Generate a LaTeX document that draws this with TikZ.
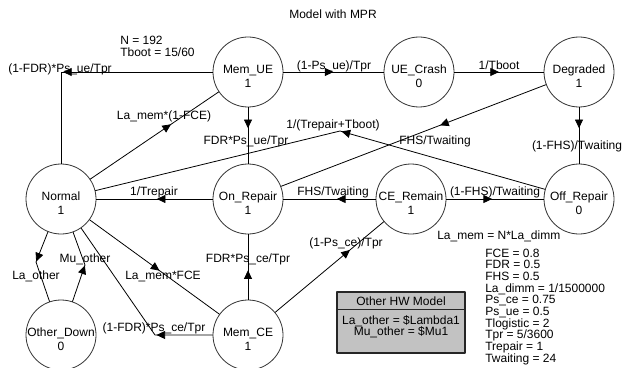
\documentclass[tikz,border=0pt]{standalone}
\usepackage{fontspec}
\setmainfont{Liberation Sans}
\usetikzlibrary{positioning,arrows.meta,decorations.markings}

\tikzset{
  mstate/.style={circle, draw=black!80, line width=0.6pt, minimum size=52.5pt, inner sep=0pt},
  stlabel/.style={align=center, inner sep=0pt, yshift=-3pt, font=\fontsize{9}{10.5}\selectfont},
  trans/.style={draw=black, line width=0.6pt},
  arr/.style={postaction={decorate}, decoration={markings,
      mark=at position #1 with {\arrow{Triangle[length=6.5pt,width=6pt]}}}},
  lbl/.style={inner sep=0pt, anchor=base, font=\fontsize{9}{10.5}\selectfont},
}

\begin{document}
\begin{tikzpicture}[x=0.75pt, y=-0.75pt, line cap=round, line join=round]
\clip (0,0) rectangle (623,367);
\fill[white] (0,0) rectangle (623,367);

% title and model constants
\node[lbl] (title) at (333,18.5) {Model with MPR};
\node[lbl, anchor=base west] (cN) at (120,45) {N = 192};
\node[lbl, anchor=base west] (cTboot) at (120,57) {Tboot = 15/60};

% states
\node[mstate, label={[stlabel]center:Mem\_UE\\1}] (MemUE) at (248,72) {};
\node[mstate, label={[stlabel]center:UE\_Crash\\0}] (UECrash) at (419,72) {};
\node[mstate, label={[stlabel]center:Degraded\\1}] (Degraded) at (579,72) {};
\node[mstate, label={[stlabel]center:Normal\\1}] (Normal) at (61,199) {};
\node[mstate, label={[stlabel]center:On\_Repair\\1}] (OnRepair) at (248,199) {};
\node[mstate, label={[stlabel]center:CE\_Remain\\1}] (CERemain) at (411,199) {};
\node[mstate, label={[stlabel]center:Off\_Repair\\0}] (OffRepair) at (579,199) {};
\node[mstate, label={[stlabel]center:Other\_Down\\0}] (OtherDown) at (61,335) {};
\node[mstate, label={[stlabel]center:Mem\_CE\\1}] (MemCE) at (248,335) {};

% bend points
\coordinate (bendA) at (340,131);
\coordinate (bendB) at (155,335);
\coordinate (bendC) at (36,262);
\coordinate (bendD) at (85,265);

% transitions, top row
\draw[trans, arr=0.615] (MemUE) -| (Normal) node[lbl] at (60,73) {(1-FDR)*Ps\_ue/Tpr};
\draw[trans, arr=0.5] (MemUE) -- (UECrash) node[lbl] at (334,70) {(1-Ps\_ue)/Tpr};
\draw[trans, arr=0.5] (UECrash) -- (Degraded) node[lbl] at (499,70) {1/Tboot};
\draw[trans, arr=0.37] (Degraded) -- (OffRepair) node[lbl] at (577,149) {(1-FHS)/Twaiting};
\draw[trans, arr=0.37] (MemUE) -- (OnRepair) node[lbl] at (246,144) {FDR*Ps\_ue/Tpr};
\draw[trans, arr=0.63] (Normal) -- (MemUE) node[lbl] at (164,119) {La\_mem*(1-FCE)};
\draw[trans, arr=0.40] (Degraded) -- (OnRepair) node[lbl] at (435,144) {FHS/Twaiting};
\draw[trans, arr=0.455] (OffRepair) -- (bendA) -- (Normal) node[lbl] at (333,128) {1/(Trepair+Tboot)};

% transitions, middle row
\draw[trans, arr=0.48] (OnRepair) -- (Normal) node[lbl] at (154,195) {1/Trepair};
\draw[trans, arr=0.42] (CERemain) -- (OnRepair) node[lbl] at (333,195) {FHS/Twaiting};
\draw[trans, arr=0.47] (CERemain) -- (OffRepair) node[lbl] at (495,195) {(1-FHS)/Twaiting};

% transitions, bottom row
\draw[trans, arr=0.69] (MemCE) -- (CERemain) node[lbl] at (346,246) {(1-Ps\_ce)/Tpr};
\draw[trans, arr=0.45] (MemCE) -- (OnRepair) node[lbl] at (248,262) {FDR*Ps\_ce/Tpr};
\draw[trans, arr=0.54] (Normal) -- (MemCE) node[lbl] at (163,279) {La\_mem*FCE};
\draw[trans, arr=0.30] (MemCE) -- (bendB) -- (Normal) node[lbl] at (154,331) {(1-FDR)*Ps\_ce/Tpr};
\draw[trans, arr=0.43] (Normal) -- (bendC) -- (OtherDown) node[lbl] at (36,279) {La\_other};
\draw[trans, arr=0.52] (OtherDown) -- (bendD) -- (Normal) node[lbl] at (85,262) {Mu\_other};

% parameters
\node[lbl, anchor=base west] (laMem) at (437,239) {La\_mem = N*La\_dimm};
\foreach \txt [count=\i] in {FCE = 0.8, FDR = 0.5, FHS = 0.5, La\_dimm = 1/1500000,
    Ps\_ce = 0.75, Ps\_ue = 0.5, Tlogistic = 2, Tpr = 5/3600, Trepair = 1, Twaiting = 24}
  \node[lbl, anchor=base west] (par\i) at (485,245.6+11.67*\i) {\txt};

% other hardware box
\node[draw=black!85, line width=0.8pt, fill=black!24, minimum width=96pt,
  minimum height=45.75pt, inner sep=0pt] (hwbox) at (401,322.5) {};
\draw[black!85, line width=0.6pt] (hwbox.north west) ++(0,18) -- ++(128,0);
\node[lbl] (hwtitle) at (401,305) {Other HW Model};
\node[lbl] (hwla) at (401,324) {La\_other = \$Lambda1};
\node[lbl] (hwmu) at (401,335) {Mu\_other = \$Mu1};
\end{tikzpicture}
\end{document}
